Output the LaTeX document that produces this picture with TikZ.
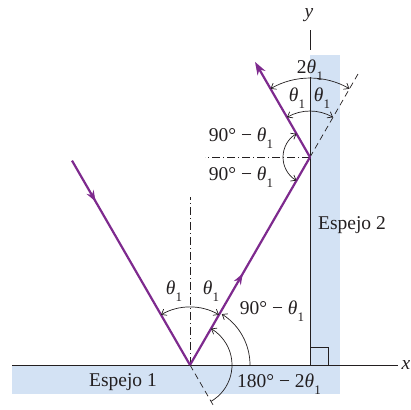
\documentclass[tikz,border=0pt]{standalone}
\usepackage{fontspec}
\setmainfont{Liberation Serif}
\usetikzlibrary{arrows.meta,calc,decorations.markings}
\definecolor{raycol}{HTML}{7E2A8E}
\definecolor{mirrorcol}{HTML}{D3E2F4}
\definecolor{inkcol}{HTML}{231F20}
\newcommand{\thsub}[1]{\textit{θ}\kern0.2pt\raisebox{-0.35em}{\fontsize{13}{13}\selectfont #1}}
\begin{document}
\begin{tikzpicture}[x=1pt,y=1pt,
  lbl/.style={font=\fontsize{19.5}{22}\selectfont, inner sep=0pt, text=inkcol},
  rayline/.style={draw=raycol, line width=2.2pt},
  mirrorline/.style={draw=inkcol, line width=0.9pt},
  arcline/.style={draw=inkcol, line width=0.7pt, arrows={-Straight Barb[length=4.5pt,width=7pt]}},
  arcboth/.style={arcline, arrows={Straight Barb[length=4.5pt,width=7pt]-Straight Barb[length=4.5pt,width=7pt]}},
  normalline/.style={draw=inkcol, line width=0.7pt, dash pattern=on 8pt off 3pt on 1pt off 3pt},
  extline/.style={draw=inkcol, line width=0.7pt, dash pattern=on 6pt off 4pt},
  midarrow/.style={postaction={decorate}, decoration={markings, mark=at position #1 with {\arrow{Stealth[length=11pt,width=8pt]}}}}
]
\useasboundingbox (0,0) rectangle (411,409);
% mirrors (blue bands)
\fill[mirrorcol] (12,15) rectangle (340,44);
\fill[mirrorcol] (310,15) rectangle (340,354);
% key points
\coordinate (P1) at (190,44);
\coordinate (P2) at ($(P1)+(60:240)$);
\coordinate (A) at ($(P1)+(120:236)$);
\coordinate (B) at ($(P2)+(120:110)$);
\coordinate (D1) at ($(P1)+(-60:48)$);
\coordinate (D2) at ($(P2)+(60:96)$);
\coordinate (N1) at (190,212);
\coordinate (N2) at (205,0 |- P2);
\coordinate (XL) at (12,44);
\coordinate (XR) at (398,44);
\coordinate (O) at (310,44);
\coordinate (YT) at (310,332);
\coordinate (YU1) at (310,359);
\coordinate (YU2) at (310,379);
% axes / mirror surfaces
\draw[mirrorline] (XL) -- (XR);
\draw[mirrorline] (O) -- (YT);
\draw[mirrorline] (YU1) -- (YU2);
\draw[inkcol, line width=0.7pt] (O) rectangle ++(18,18);
% normals and extensions
\draw[normalline] (P1) -- (N1);
\draw[normalline] (P2) -- (N2);
\draw[extline] (P1) -- (D1);
\draw[extline] (P2) -- (D2);
% rays
\draw[rayline, midarrow=0.20] (A) -- (P1);
\draw[rayline, midarrow=0.44] (P1) -- (P2);
\draw[rayline, -{Stealth[length=13pt,width=9pt]}] (P2) -- (B);
% angle arcs at P1
\draw[arcboth] ($(P1)+(120:58)$) arc[start angle=120, end angle=60, radius=58];
\draw[arcline] ($(P1)+(0:60)$) arc[start angle=0, end angle=58, radius=60];
\draw[arcline] ($(P1)+(-60:42)$) arc[start angle=-60, end angle=60, radius=42];
% angle arcs at P2
\draw[arcline] ($(P2)+(180:27)$) arc[start angle=180, end angle=120, radius=27];
\draw[arcline] ($(P2)+(180:27)$) arc[start angle=180, end angle=240, radius=27];
\draw[arcboth] ($(P2)+(120:46)$) arc[start angle=120, end angle=60, radius=46];
\draw[arcboth] ($(P2)+(120:79)$) arc[start angle=120, end angle=60, radius=79];
% labels
\node[lbl] (l1) at (174,118) {\thsub{1}};
\node[lbl] (l2) at (211,118) {\thsub{1}};
\node[lbl] (l3) at (272,98) {90° − \thsub{1}};
\node[lbl] (l4) at (279,25) {180° − 2\thsub{1}};
\node[lbl] (l5) at (241,271) {90° − \thsub{1}};
\node[lbl] (l6) at (241,232) {90° − \thsub{1}};
\node[lbl] (l7) at (297,311) {\thsub{1}};
\node[lbl] (l8) at (322,311) {\thsub{1}};
\node[lbl] (l9) at (310,339) {2\thsub{1}};
\node[lbl] (m1) at (123,27) {Espejo 1};
\node[lbl] (m2) at (352,184) {Espejo 2};
\node[lbl] (ax) at (309,394) {\textit{y}};
\node[lbl] (ay) at (406,44) {\textit{x}};
\end{tikzpicture}
\end{document}
